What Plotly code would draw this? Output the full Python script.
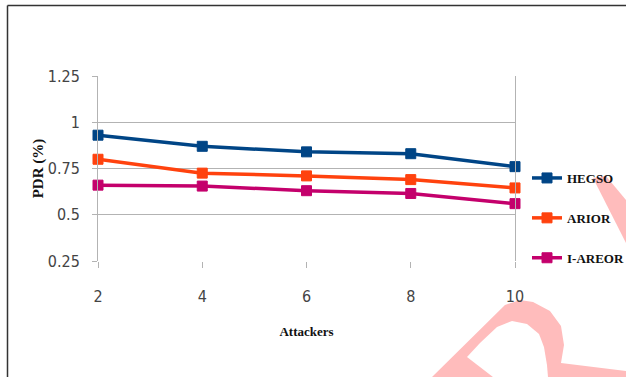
import plotly.graph_objects as go

# Number of attackers on the x axis
attackers = [2, 4, 6, 8, 10]

# Packet delivery ratio for each routing scheme
hegso = [0.93, 0.87, 0.84, 0.83, 0.76]
arior = [0.80, 0.725, 0.71, 0.69, 0.645]
i_areor = [0.66, 0.655, 0.63, 0.615, 0.56]

series = [
    ("HEGSO", hegso, "#004586"),
    ("ARIOR", arior, "#ff420e"),
    ("I-AREOR", i_areor, "#c4006c"),
]

W, H = 626, 377
L, R, T, B = 98, 111, 76, 116
PW, PH = W - L - R, H - T - B


def px_to_paper(x, y):
    """Convert pixel coordinates of the page to paper coordinates."""
    return (x - L) / PW, (H - B - y) / PH


def poly_path(points):
    pts = [px_to_paper(x, y) for x, y in points]
    return "M " + " L ".join(f"{x:.4f},{y:.4f}" for x, y in pts) + " Z"


fig = go.Figure()

for i, (name, vals, color) in enumerate(series):
    fig.add_trace(go.Scatter(
        x=attackers, y=vals, name=name, mode="lines+markers",
        line=dict(color=color, width=3.5),
        marker=dict(symbol="square", size=10, color=color,
                    line=dict(color=color, width=1)),
        legendgroup=f"g{i}", cliponaxis=False,
    ))

tick_font = dict(family="Liberation Sans Narrow, DejaVu Sans Condensed, Liberation Sans",
                 size=16, color="#444444")
title_font = dict(family="Liberation Serif, Times New Roman, serif",
                  size=13, color="#111111")

fig.update_layout(
    width=W, height=H,
    margin=dict(l=L, r=R, t=T, b=B, autoexpand=False),
    paper_bgcolor="white", plot_bgcolor="white",
    showlegend=True,
    legend=dict(
        x=px_to_paper(527, 0)[0], y=px_to_paper(0, 163)[1],
        xanchor="left", yanchor="top",
        font=dict(family="Liberation Serif, Times New Roman, serif",
                  size=13, color="#111111", weight="bold"),
        tracegroupgap=20, bgcolor="rgba(0,0,0,0)",
    ),
    xaxis=dict(
        range=[2, 10], tickvals=attackers, showgrid=False,
        showline=False, zeroline=False,
        ticks="outside", ticklen=6, tickcolor="#b3b3b3", tickwidth=1,
        tickfont=tick_font, ticklabelstandoff=15,
        title=dict(text="<b>Attackers</b>", font=title_font, standoff=21),
    ),
    yaxis=dict(
        range=[0.25, 1.25], tickvals=[0.25, 0.5, 0.75, 1, 1.25],
        ticktext=["0.25", "0.5", "0.75", "1", "1.25"],
        showgrid=True, gridcolor="#b3b3b3", gridwidth=1,
        showline=True, linecolor="#b3b3b3", linewidth=1, mirror=True,
        zeroline=False,
        ticks="outside", ticklen=5, tickcolor="#b3b3b3", tickwidth=1,
        tickfont=tick_font, ticklabelstandoff=9,
        title=dict(text="<b>PDR (%)</b>",
                   font=dict(family="Liberation Serif, Times New Roman, serif",
                             size=15, color="#111111"),
                   standoff=0),
    ),
)

# Pale red stamp strokes in the lower right corner
pink = "#ffbcbc"
fig.add_shape(type="path", xref="paper", yref="paper", layer="below",
              path=poly_path([(593, 178), (606, 176), (626, 200), (626, 243)]),
              fillcolor=pink, line=dict(width=0))
fig.add_shape(type="path", xref="paper", yref="paper", layer="below",
              path=poly_path([(432, 377), (505, 305), (520, 300), (533, 302),
                              (550, 311), (561, 326), (564, 345), (561, 363),
                              (626, 371), (626, 377)]),
              fillcolor=pink, line=dict(width=0))
fig.add_shape(type="path", xref="paper", yref="paper", layer="below",
              path=poly_path([(467, 357), (480, 343), (497, 327), (512, 321),
                              (527, 324), (539, 334), (544, 347), (547, 365),
                              (548, 377), (493, 377)]),
              fillcolor="white", line=dict(width=0))

# Page frame on the top and left edges
x0, y0 = px_to_paper(7.5, 5.5)
x1, _ = px_to_paper(W + 5, 0)
_, y1 = px_to_paper(0, H + 5)
fig.add_shape(type="line", xref="paper", yref="paper", x0=x0, y0=y0, x1=x1, y1=y0,
              line=dict(color="#333333", width=1.5))
fig.add_shape(type="line", xref="paper", yref="paper", x0=x0, y0=y0, x1=x0, y1=y1,
              line=dict(color="#333333", width=1.5))

fig.write_html("out.html")
